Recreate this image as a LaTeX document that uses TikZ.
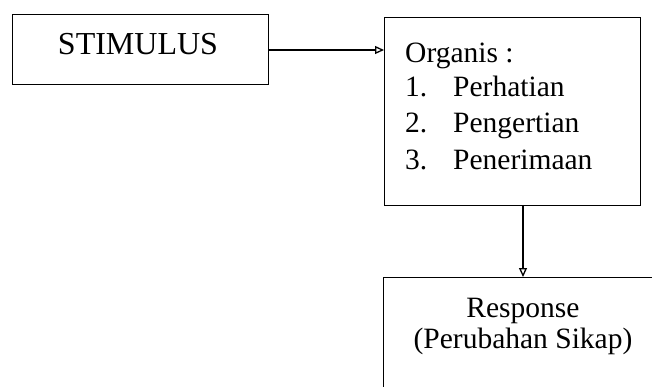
\documentclass[tikz,border=0pt]{standalone}
\usepackage{fontspec}
\setmainfont{Liberation Serif}
\usetikzlibrary{arrows.meta}
\begin{document}
\begin{tikzpicture}[x=1pt,y=-1pt,
  boxstyle/.style={draw,line width=1.4pt,rectangle,inner sep=0pt,anchor=north west},
  txt/.style={inner sep=0pt,font=\fontsize{29.5}{34}\selectfont},
  bigtxt/.style={inner sep=0pt,font=\fontsize{32}{36}\selectfont},
  conn/.style={line width=1.2pt,-{Triangle[open,length=9pt,width=8pt,line width=1.3pt]}}]
\useasboundingbox (0,0) rectangle (652,387);
\clip (0,0) rectangle (652,387);
% boxes
\node[boxstyle,minimum width=256pt,minimum height=70pt] (stim) at (12,14) {};
\node[boxstyle,minimum width=256pt,minimum height=188pt] (org) at (384,17) {};
\node[boxstyle,minimum width=300pt,minimum height=160pt] (resp) at (383,277) {};
% texts
\node[bigtxt,anchor=base] (stimt) at (138,55) {STIMULUS};
\node[txt,anchor=base west] (orgt) at (405,63) {Organis :};
\node[txt,anchor=base west] (n1) at (405,97) {1.};
\node[txt,anchor=base west] (l1) at (453,97) {Perhatian};
\node[txt,anchor=base west] (n2) at (405,133) {2.};
\node[txt,anchor=base west] (l2) at (453,133) {Pengertian};
\node[txt,anchor=base west] (n3) at (405,170) {3.};
\node[txt,anchor=base west] (l3) at (453,170) {Penerimaan};
\node[txt,anchor=base] (rt1) at (523,317) {Response};
\node[txt,anchor=base] (rt2) at (523,348) {(Perubahan Sikap)};
% connectors
\coordinate (a1) at (268,50);
\coordinate (a2) at (384,50);
\draw[conn] (a1) -- (a2);
\coordinate (b1) at (523,205);
\coordinate (b2) at (523,277);
\draw[conn] (b1) -- (b2);
\end{tikzpicture}
\end{document}
